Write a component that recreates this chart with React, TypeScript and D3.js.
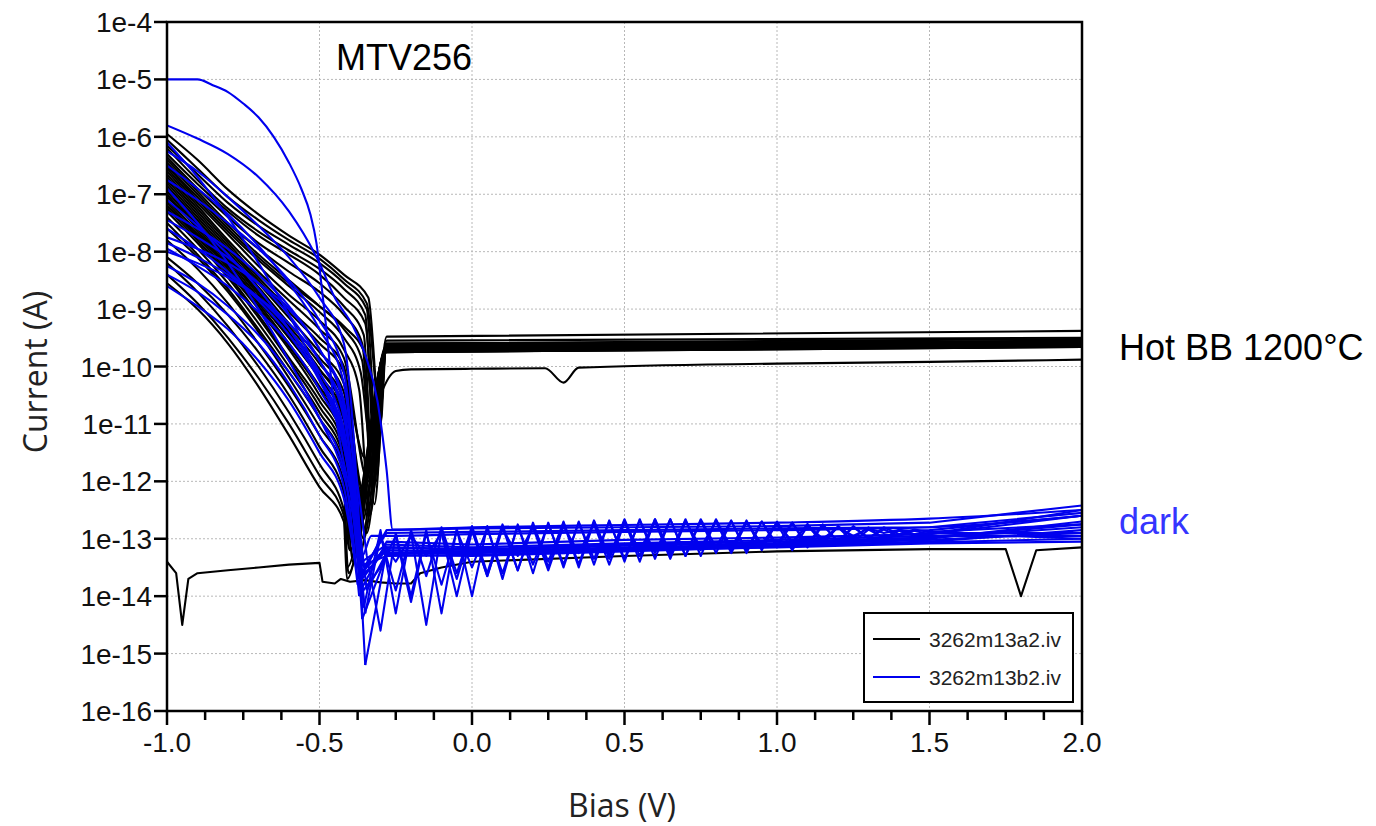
import React from 'react';
import * as d3 from 'd3';

// ---------- axis definitions ----------
const X_MAJOR_TICKS = [-1.0, -0.5, 0.0, 0.5, 1.0, 1.5, 2.0];
const X_MAJOR_LABELS = ['-1.0', '-0.5', '0.0', '0.5', '1.0', '1.5', '2.0'];
const X_MINOR_TICKS = [-0.875, -0.75, -0.625, -0.375, -0.25, -0.125, 0.125, 0.25, 0.375, 0.625, 0.75, 0.875, 1.125, 1.25, 1.375, 1.625, 1.75, 1.875];
const Y_DECADES = [-4, -5, -6, -7, -8, -9, -10, -11, -12, -13, -14, -15, -16];
const Y_LABELS = ['1e-4', '1e-5', '1e-6', '1e-7', '1e-8', '1e-9', '1e-10', '1e-11', '1e-12', '1e-13', '1e-14', '1e-15', '1e-16'];
const LEGEND_NAMES = ['3262m13a2.iv', '3262m13b2.iv'];

// ---------- data (log10 of current) ----------
// bias grid for the reverse-bias part of every curve
const BIAS_GRID = [-1.0, -0.9, -0.8, -0.7, -0.6, -0.5, -0.42];
const HOT_PLATEAU_X = [-0.28, 2.0];

// Hot black-body curves, upper group: 7 values on BIAS_GRID, knee bias, knee value, dip bias, dip value, plateau start, plateau end
const HOT_UPPER: number[][] = [
  [-5.95, -6.40, -6.92, -7.35, -7.72, -8.05, -8.40, -0.34, -8.80, -0.30, -11.0, -9.55, -9.50],
  [-6.05, -6.55, -7.05, -7.45, -7.80, -8.12, -8.48, -0.345, -8.90, -0.305, -10.6, -9.60, -9.52],
  [-6.15, -6.65, -7.15, -7.55, -7.88, -8.20, -8.55, -0.345, -9.00, -0.31, -11.5, -9.62, -9.55],
  [-6.20, -6.75, -7.25, -7.65, -7.98, -8.30, -8.65, -0.35, -9.10, -0.315, -12.0, -9.65, -9.57],
  [-6.30, -6.82, -7.30, -7.72, -8.05, -8.40, -8.80, -0.35, -9.25, -0.315, -11.2, -9.60, -9.56],
  [-6.35, -6.90, -7.40, -7.85, -8.20, -8.55, -8.95, -0.355, -9.45, -0.32, -12.4, -9.70, -9.60],
  [-6.40, -6.95, -7.50, -7.95, -8.35, -8.70, -9.10, -0.36, -9.60, -0.325, -11.8, -9.62, -9.58],
  [-6.45, -7.00, -7.55, -8.05, -8.50, -8.95, -9.35, -0.36, -9.90, -0.325, -12.2, -9.65, -9.60],
  [-6.50, -7.10, -7.65, -8.15, -8.60, -9.05, -9.50, -0.365, -10.1, -0.33, -11.4, -9.68, -9.60],
  [-6.55, -7.15, -7.70, -8.25, -8.75, -9.20, -9.70, -0.37, -10.4, -0.335, -12.6, -9.72, -9.62],
  [-6.50, -7.05, -7.60, -8.10, -8.55, -8.95, -9.30, -0.35, -9.80, -0.315, -11.0, -9.48, -9.38],
];

// Hot black-body curves, lower group: 7 values on BIAS_GRID, dip bias, dip value, plateau start, plateau end
const HOT_LOWER: number[][] = [
  [-6.60, -7.20, -7.80, -8.35, -8.85, -9.35, -9.85, -0.34, -12.0, -9.66, -9.60],
  [-6.65, -7.25, -7.85, -8.45, -9.00, -9.50, -10.00, -0.345, -12.9, -9.70, -9.62],
  [-6.70, -7.30, -7.90, -8.50, -9.05, -9.60, -10.10, -0.35, -11.6, -9.64, -9.58],
  [-6.75, -7.35, -7.95, -8.55, -9.15, -9.75, -10.30, -0.35, -12.3, -9.72, -9.63],
  [-6.80, -7.40, -8.00, -8.62, -9.25, -9.85, -10.45, -0.355, -13.0, -9.75, -9.65],
  [-6.85, -7.45, -8.05, -8.70, -9.30, -9.95, -10.60, -0.36, -12.1, -9.68, -9.62],
  [-6.90, -7.50, -8.10, -8.75, -9.40, -10.05, -10.70, -0.36, -12.7, -9.70, -9.60],
  [-6.95, -7.55, -8.15, -8.80, -9.45, -10.15, -10.85, -0.365, -12.4, -9.66, -9.58],
  [-7.00, -7.60, -8.20, -8.85, -9.50, -10.20, -10.95, -0.37, -13.3, -9.74, -9.64],
  [-7.05, -7.55, -8.10, -8.70, -9.35, -10.05, -10.80, -0.37, -12.2, -9.62, -9.57],
  [-7.10, -7.65, -8.25, -8.90, -9.60, -10.35, -11.10, -0.375, -12.8, -9.70, -9.60],
  [-7.15, -7.70, -8.30, -8.95, -9.65, -10.40, -11.20, -0.38, -13.0, -9.68, -9.62],
  [-7.20, -7.75, -8.35, -9.00, -9.70, -10.50, -11.30, -0.38, -12.5, -9.66, -9.59],
  [-7.25, -7.80, -8.40, -9.10, -9.85, -10.60, -11.40, -0.385, -13.1, -9.72, -9.63],
  [-7.30, -7.85, -8.45, -9.15, -9.90, -10.70, -11.50, -0.39, -12.6, -9.70, -9.61],
  [-7.40, -7.95, -8.55, -9.25, -10.00, -10.80, -11.60, -0.39, -13.4, -9.74, -9.65],
  [-7.50, -8.05, -8.65, -9.35, -10.10, -10.90, -11.70, -0.395, -12.9, -9.70, -9.62],
  [-7.60, -8.10, -8.70, -9.40, -10.20, -11.05, -11.80, -0.40, -13.2, -9.72, -9.63],
  [-7.80, -8.30, -8.90, -9.60, -10.35, -11.20, -12.00, -0.41, -13.5, -9.75, -9.66],
  [-8.20, -8.70, -9.30, -10.00, -10.80, -11.70, -12.50, -0.405, -13.6, -9.75, -9.66],
  [-8.40, -8.90, -9.50, -10.20, -11.00, -11.90, -12.60, -0.40, -13.2, -9.68, -9.60],
  [-8.55, -9.00, -9.60, -10.35, -11.20, -12.10, -12.70, -0.41, -13.7, -9.72, -9.63],
  [-8.10, -8.55, -9.10, -9.75, -10.50, -11.40, -12.20, -0.40, -13.0, -9.70, -9.62],
];

// hot curve with the low plateau and a notch near 0.3 V: [bias, log10 I]
const HOT_LOW_OUTLIER: [number, number][] = [
  [-1.0, -7.2], [-0.9, -7.7], [-0.8, -8.25], [-0.7, -8.85], [-0.6, -9.5], [-0.5, -10.2], [-0.42, -10.9],
  [-0.36, -12.2], [-0.33, -11.0], [-0.3, -10.5], [-0.25, -10.08], [-0.2, -10.05], [0.0, -10.04],
  [0.24, -10.03], [0.3, -10.28], [0.35, -10.02], [1.0, -9.95], [1.5, -9.92], [2.0, -9.88],
];

// black file curve measured near the noise floor
const BLACK_FLOOR: [number, number][] = [
  [-1.0, -13.4], [-0.97, -13.6], [-0.95, -14.5], [-0.93, -13.7], [-0.9, -13.6], [-0.8, -13.55],
  [-0.7, -13.5], [-0.6, -13.45], [-0.5, -13.42], [-0.49, -13.75], [-0.45, -13.78], [-0.43, -13.7],
  [-0.4, -13.75], [-0.35, -13.72], [-0.3, -13.76], [-0.25, -13.78], [-0.2, -13.78], [-0.17, -13.6],
  [-0.1, -13.5], [0.0, -13.4], [0.5, -13.3], [1.0, -13.22], [1.5, -13.18], [1.75, -13.18],
  [1.8, -14.0], [1.85, -13.2], [2.0, -13.15],
];

// Dark curves (file b2)
const BLUE_COMPLIANCE: [number, number][] = [
  [-1.0, -5.0], [-0.9, -5.0], [-0.85, -5.1], [-0.8, -5.22], [-0.75, -5.42], [-0.7, -5.66], [-0.65, -6.0],
  [-0.6, -6.45], [-0.56, -6.9], [-0.53, -7.35], [-0.51, -7.85], [-0.49, -8.75], [-0.476, -9.42],
  [-0.46, -10.3], [-0.43, -11.4], [-0.39, -12.4], [-0.36, -13.3], [-0.33, -12.95], [-0.28, -12.95],
  [0.0, -12.92], [0.5, -12.88], [1.0, -12.85], [1.5, -12.8], [2.0, -12.6],
];
const BLUE_HIGH: [number, number][] = [
  [-1.0, -5.8], [-0.9, -6.03], [-0.8, -6.3], [-0.7, -6.7], [-0.6, -7.3], [-0.5, -8.2], [-0.45, -8.8],
  [-0.39, -9.3], [-0.35, -9.8], [-0.31, -10.6], [-0.28, -11.8], [-0.26, -12.84], [0.0, -12.8],
  [0.5, -12.76], [1.0, -12.72], [1.5, -12.65], [2.0, -12.5],
];

// smooth dark curves: 7 values on BIAS_GRID, dip bias, dip value, then values on BLUE_PLATEAU_X
const BLUE_PLATEAU_X = [-0.28, 0.0, 0.5, 1.0, 1.5, 2.0];
const BLUE_SMOOTH: number[][] = [
  [-6.25, -6.60, -7.05, -7.55, -8.10, -8.80, -9.60, -0.36, -13.6, -12.85, -12.82, -12.80, -12.78, -12.72, -12.42],
  [-6.75, -7.10, -7.50, -7.95, -8.50, -9.20, -10.10, -0.35, -15.2, -13.20, -13.22, -13.15, -13.10, -13.00, -12.70],
  [-7.45, -7.75, -8.10, -8.55, -9.10, -9.90, -10.90, -0.345, -13.9, -13.25, -13.25, -13.18, -13.12, -13.05, -12.85],
  [-7.95, -8.25, -8.60, -9.05, -9.60, -10.40, -11.40, -0.36, -13.7, -13.15, -13.20, -13.12, -13.08, -12.98, -12.80],
  [-8.60, -8.95, -9.35, -9.90, -10.60, -11.50, -12.30, -0.38, -13.5, -13.30, -13.28, -13.20, -13.15, -13.08, -13.05],
  [-6.90, -7.50, -8.20, -9.00, -9.90, -10.90, -11.90, -0.36, -13.4, -13.10, -13.15, -13.08, -13.02, -12.95, -12.95],
  [-7.10, -7.55, -8.05, -8.65, -9.35, -10.20, -11.20, -0.37, -13.7, -13.20, -13.24, -13.16, -13.10, -13.02, -12.90],
  [-7.60, -7.95, -8.35, -8.85, -9.45, -10.25, -11.30, -0.365, -13.9, -13.05, -13.10, -13.02, -12.98, -12.92, -12.60],
  [-6.10, -6.70, -7.40, -8.20, -9.10, -10.20, -11.40, -0.355, -13.5, -12.90, -12.88, -12.85, -12.82, -12.80, -12.55],
  [-7.75, -7.95, -8.20, -8.55, -9.00, -9.70, -10.70, -0.36, -14.4, -13.28, -13.30, -13.22, -13.14, -13.06, -13.00],
  [-8.00, -8.20, -8.45, -8.80, -9.25, -9.90, -10.80, -0.365, -13.6, -13.15, -13.18, -13.10, -13.05, -12.98, -12.75],
];

// noisy dark curves: 7 values on BIAS_GRID, dip bias, dip value
const BLUE_ZIG_LEFT: number[][] = [
  [-6.50, -6.90, -7.35, -7.90, -8.55, -9.35, -10.30, -0.355, -14.2],
  [-7.30, -7.60, -7.95, -8.40, -8.95, -9.70, -10.60, -0.345, -13.3],
  [-7.85, -8.10, -8.40, -8.80, -9.35, -10.10, -11.10, -0.35, -14.3],
  [-8.25, -8.55, -8.95, -9.45, -10.10, -10.90, -11.80, -0.37, -14.0],
  [-8.40, -8.70, -9.10, -9.60, -10.30, -11.20, -12.10, -0.375, -13.8],
];
const ZIG_X = [-0.30, -0.25, -0.20, -0.15, -0.10, -0.05, 0.00, 0.05, 0.10, 0.15, 0.20, 0.25, 0.30, 0.35, 0.40, 0.45, 0.50, 0.55, 0.60, 0.65, 0.70, 0.75, 0.80, 0.85, 0.90, 0.95, 1.00, 1.05, 1.10, 1.15, 1.20, 1.25, 1.30, 1.35, 1.40, 1.45, 1.50, 2.00];
const BLUE_ZIG_RIGHT: number[][] = [
  [-12.85, -14.3, -12.85, -13.65, -12.8, -13.6, -12.78, -13.6, -12.75, -13.55, -12.72, -13.5, -12.7, -13.45, -12.68, -13.35, -12.66, -13.3, -12.66, -13.25, -12.68, -13.2, -12.68, -13.15, -12.7, -13.1, -12.72, -13.05, -12.76, -13.0, -12.8, -12.95, -12.82, -12.9, -12.85, -12.86, -12.85, -12.6],
  [-14.6, -12.9, -14.0, -12.85, -14.3, -12.82, -14.0, -12.78, -13.7, -12.75, -13.6, -12.72, -13.5, -12.7, -13.45, -12.68, -13.4, -12.66, -13.35, -12.66, -13.3, -12.68, -13.25, -12.7, -13.2, -12.7, -13.15, -12.72, -13.1, -12.75, -13.05, -12.78, -13.0, -12.8, -12.92, -12.84, -12.88, -12.75],
  [-12.95, -13.9, -12.9, -14.5, -12.86, -13.7, -12.82, -13.65, -12.8, -13.55, -12.76, -13.4, -12.72, -13.5, -12.7, -13.3, -12.68, -13.4, -12.66, -13.3, -12.66, -13.3, -12.66, -13.2, -12.68, -13.2, -12.7, -13.1, -12.74, -13.1, -12.78, -12.98, -12.8, -13.0, -12.84, -12.92, -12.9, -12.9],
  [-13.5, -12.95, -14.1, -12.9, -13.8, -12.86, -13.5, -12.82, -13.6, -12.78, -13.45, -12.74, -13.45, -12.72, -13.35, -12.7, -13.35, -12.68, -13.25, -12.66, -13.3, -12.66, -13.15, -12.68, -13.25, -12.7, -13.1, -12.72, -13.15, -12.76, -13.05, -12.8, -12.98, -12.84, -12.95, -12.86, -12.92, -12.5],
  [-13.0, -13.4, -12.95, -13.3, -12.9, -14.0, -12.86, -13.65, -12.82, -13.3, -12.8, -13.55, -12.78, -13.25, -12.74, -13.45, -12.72, -13.2, -12.7, -13.35, -12.7, -13.15, -12.7, -13.25, -12.72, -13.1, -12.74, -13.2, -12.78, -13.05, -12.8, -13.05, -12.84, -12.98, -12.86, -12.95, -12.9, -13.0],
];

// ---------- layout ----------
const W = 1376;
const H = 826;
const PL = 167, PR = 1082, PT = 22, PB = 711;
const BLACK = '#000000';
const BLUE = '#0000ee';
const TICK_FONT = '"Liberation Sans", Arial, sans-serif';
const TITLE_FONT = '"Open Sans", "Noto Sans", sans-serif';

type Pt = [number, number];

export default function App() {
  const x = d3.scaleLinear().domain([-1, 2]).range([PL, PR]);
  const y = d3.scaleLog().domain([1e-16, 1e-4]).range([PB, PT]);

  const smooth = d3.line<Pt>().x(d => x(d[0])).y(d => y(Math.pow(10, d[1]))).curve(d3.curveMonotoneX);
  const straight = d3.line<Pt>().x(d => x(d[0])).y(d => y(Math.pow(10, d[1]))).curve(d3.curveLinear);

  const leftPart = (vals: number[]): Pt[] => BIAS_GRID.map((b, i) => [b, vals[i]] as Pt);

  const hotPaths: string[] = [];
  HOT_UPPER.forEach(c => {
    const pts: Pt[] = [...leftPart(c), [c[7], c[8]], [c[9], c[10]], [HOT_PLATEAU_X[0], c[11]], [HOT_PLATEAU_X[1], c[12]]];
    hotPaths.push(smooth(pts) as string);
  });
  HOT_LOWER.forEach(c => {
    const pts: Pt[] = [...leftPart(c), [c[7], c[8]], [HOT_PLATEAU_X[0], c[9]], [HOT_PLATEAU_X[1], c[10]]];
    hotPaths.push(smooth(pts) as string);
  });
  hotPaths.push(smooth(HOT_LOW_OUTLIER) as string);

  const bluePaths: string[] = [];
  bluePaths.push(smooth(BLUE_COMPLIANCE) as string);
  bluePaths.push(smooth(BLUE_HIGH) as string);
  BLUE_SMOOTH.forEach(c => {
    const left: Pt[] = [...leftPart(c), [c[7], c[8]]];
    const right: Pt[] = [[c[7], c[8]], ...BLUE_PLATEAU_X.map((b, i) => [b, c[9 + i]] as Pt)];
    bluePaths.push(smooth(left) as string);
    bluePaths.push(straight(right) as string);
  });
  BLUE_ZIG_LEFT.forEach((c, k) => {
    const left: Pt[] = [...leftPart(c), [c[7], c[8]]];
    const right: Pt[] = [[c[7], c[8]], ...ZIG_X.map((b, i) => [b, BLUE_ZIG_RIGHT[k][i]] as Pt)];
    bluePaths.push(smooth(left) as string);
    bluePaths.push(straight(right) as string);
  });

  const gridX = X_MAJOR_TICKS.filter(v => v > -1 && v < 2);
  const gridY = Y_DECADES.filter(v => v < -4 && v > -16);

  return (
    <svg width={W} height={H} style={{ position: 'absolute', left: 0, top: 0, background: '#fff' }}>
      <defs>
        <clipPath id="plotClip">
          <rect x={PL} y={PT} width={PR - PL} height={PB - PT} />
        </clipPath>
      </defs>
      <rect x={0} y={0} width={W} height={H} fill="#fff" />

      {/* grid */}
      <g stroke="#b8b8b8" strokeWidth={1} strokeDasharray="2,2">
        {gridX.map(v => <line key={'gx' + v} x1={x(v)} x2={x(v)} y1={PT} y2={PB} />)}
        {gridY.map(v => <line key={'gy' + v} x1={PL} x2={PR} y1={y(Math.pow(10, v))} y2={y(Math.pow(10, v))} />)}
      </g>

      {/* curves */}
      <g clipPath="url(#plotClip)" fill="none" strokeLinejoin="round">
        <g stroke={BLACK} strokeWidth={2.1}>
          {hotPaths.map((d, i) => <path key={'h' + i} d={d} />)}
          <path d={straight(BLACK_FLOOR) as string} />
        </g>
        <g stroke={BLUE} strokeWidth={2.1}>
          {bluePaths.map((d, i) => <path key={'b' + i} d={d} />)}
        </g>
      </g>

      {/* frame */}
      <rect x={PL} y={PT} width={PR - PL} height={PB - PT} fill="none" stroke="#000" strokeWidth={2.5} />

      {/* y ticks */}
      <g>
        {Y_DECADES.map((v, i) => (
          <g key={'yt' + v}>
            <line x1={PL - 13} x2={PL} y1={y(Math.pow(10, v))} y2={y(Math.pow(10, v))} stroke="#000" strokeWidth={2.5} />
            <text x={PL - 15} y={y(Math.pow(10, v))} dy="0.36em" textAnchor="end" fontFamily={TICK_FONT} fontSize={28} fill="#111">{Y_LABELS[i]}</text>
          </g>
        ))}
      </g>

      {/* x ticks */}
      <g>
        {X_MINOR_TICKS.map(v => (
          <line key={'xm' + v} x1={x(v)} x2={x(v)} y1={PB} y2={PB + 9} stroke="#000" strokeWidth={2.5} />
        ))}
        {X_MAJOR_TICKS.map((v, i) => (
          <g key={'xt' + v}>
            <line x1={x(v)} x2={x(v)} y1={PB} y2={PB + 14} stroke="#000" strokeWidth={2.5} />
            <text x={x(v)} y={752} textAnchor="middle" fontFamily={TICK_FONT} fontSize={28} fill="#111">{X_MAJOR_LABELS[i]}</text>
          </g>
        ))}
      </g>

      {/* axis titles */}
      <text x={622} y={817} textAnchor="middle" fontFamily={TITLE_FONT} fontSize={32} fill="#222">Bias (V)</text>
      <text transform="translate(47,372) rotate(-90)" textAnchor="middle" fontFamily={TITLE_FONT} fontSize={32} fill="#222">Current (A)</text>

      {/* annotations */}
      <text x={336} y={70} fontFamily={TICK_FONT} fontSize={36} fill="#000">MTV256</text>
      <text x={1119} y={360} fontFamily={TICK_FONT} fontSize={36} fill="#000">Hot BB 1200°C</text>
      <text x={1119} y={534} fontFamily={TICK_FONT} fontSize={36} fill="#3535ff">dark</text>

      {/* legend */}
      <g>
        <rect x={864} y={613} width={209} height={89} fill="#fff" stroke="#000" strokeWidth={2} />
        <line x1={873} x2={920} y1={639} y2={639} stroke={BLACK} strokeWidth={2} />
        <text x={929} y={647} fontFamily={TICK_FONT} fontSize={21} fill="#222">{LEGEND_NAMES[0]}</text>
        <line x1={873} x2={920} y1={677} y2={677} stroke={BLUE} strokeWidth={2} />
        <text x={929} y={685} fontFamily={TICK_FONT} fontSize={21} fill="#222">{LEGEND_NAMES[1]}</text>
      </g>
    </svg>
  );
}
